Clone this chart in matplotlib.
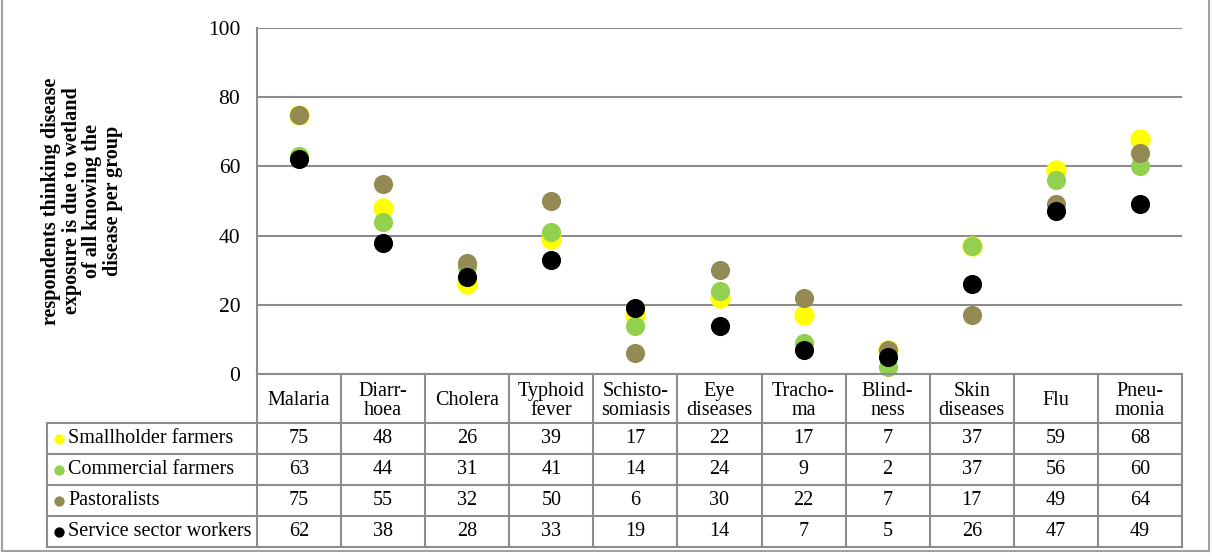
import matplotlib.pyplot as plt
import numpy as np

plt.rcParams['font.family'] = ['Liberation Serif', 'DejaVu Serif']

# Data
diseases = ['Malaria', 'Diarr-\nhoea', 'Cholera', 'Typhoid\nfever', 'Schisto-\nsomiasis', 'Eye\ndiseases',
            'Tracho-\nma', 'Blind-\nness', 'Skin\ndiseases', 'Flu', 'Pneu-\nmonia']
groups = ['Smallholder farmers', 'Commercial farmers', 'Pastoralists', 'Service sector workers']
smallholder = [75, 48, 26, 39, 17, 22, 17, 7, 37, 59, 68]
commercial = [63, 44, 31, 41, 14, 24, 9, 2, 37, 56, 60]
pastoralists = [75, 55, 32, 50, 6, 30, 22, 7, 17, 49, 64]
service = [62, 38, 28, 33, 19, 14, 7, 5, 26, 47, 49]
series = [smallholder, commercial, pastoralists, service]
colors = ['#FFFF00', '#92D050', '#948A54', '#000000']
yticks = [0, 20, 40, 60, 80, 100]
ylabel = 'respondents thinking disease\nexposure is due to wetland\nof all knowing the\ndisease per group'

W, H = 1212, 560
grid_col = '#8C8C8C'
fs = 14.5
fig = plt.figure(figsize=(W / 100, H / 100), dpi=100)

# frame around the chart
for xs, ys in [([2, 2], [0, 551]), ([1209, 1209], [0, 551]), ([2, 1209], [551, 551])]:
    fig.add_artist(plt.Line2D([x / W for x in xs], [1 - y / H for y in ys],
                              color='#A0A0A0', lw=1.5, transform=fig.transFigure))

# main plot
ax = fig.add_axes([257 / W, 1 - 374 / H, (1182 - 257) / W, (374 - 28) / H])
n = len(diseases)
x = np.arange(n)
sizes = [215, 190, 190, 190]
for vals, c, s in zip(series, colors, sizes):
    ax.scatter(x, vals, s=s, color=c, zorder=3, clip_on=False, linewidths=0)
ax.set_xlim(-0.5, n - 0.5)
ax.set_ylim(0, 100)
ax.set_yticks(yticks)
ax.set_xticks([])
ax.tick_params(axis='y', length=0, pad=12, labelsize=15.5)
ax.yaxis.grid(True, color=grid_col, lw=1.5)
ax.set_axisbelow(True)
for s in ['top', 'right', 'bottom']:
    ax.spines[s].set_visible(False)
ax.spines['left'].set_color(grid_col)
ax.spines['left'].set_linewidth(1.5)
fig.text(82 / W, 1 - 201 / H, ylabel, rotation=90, ha='center', va='center',
         fontsize=fs, fontweight='bold', linespacing=1.05)

# data table
tax = fig.add_axes([47 / W, 1 - 547 / H, (1182 - 47) / W, (547 - 374) / H])
label_w = (257 - 47) / ((1182 - 257) / n)
head_h = 49 / 31
nrow = len(groups)
tax.set_xlim(-label_w, n)
tax.set_ylim(head_h + nrow, 0)
tax.axis('off')
lk = dict(color=grid_col, lw=1.5, clip_on=False)
for i in range(n + 1):
    tax.plot([i, i], [0, head_h + nrow], **lk)
tax.plot([-label_w, -label_w], [head_h, head_h + nrow], **lk)
tax.plot([0, n], [0, 0], **lk)
for r in range(nrow + 1):
    tax.plot([-label_w, n], [head_h + r, head_h + r], **lk)
for i, d in enumerate(diseases):
    tax.text(i + 0.5, head_h / 2 + 0.08, d, ha='center', va='center', fontsize=fs, linespacing=1.05)
for r, (g, vals, c) in enumerate(zip(groups, series, colors)):
    yc = head_h + r + 0.5
    tax.scatter([-label_w + 0.14], [yc], s=55, color=c, clip_on=False, linewidths=0)
    tax.text(-label_w + 0.25, yc, g, ha='left', va='center', fontsize=fs)
    for i, v in enumerate(vals):
        tax.text(i + 0.5, yc, str(v), ha='center', va='center', fontsize=fs)

fig.savefig('out.png', dpi=100, facecolor='white')
